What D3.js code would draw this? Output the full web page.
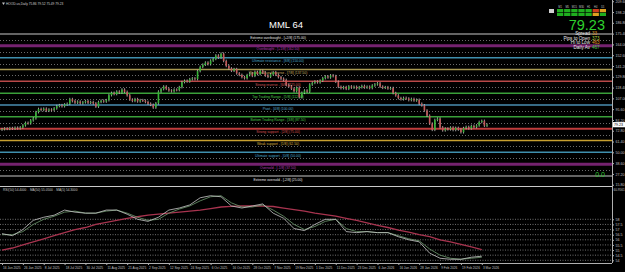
<!DOCTYPE html>
<html>
<head>
<meta charset="utf-8">
<script src="https://cdn.jsdelivr.net/npm/d3@7/dist/d3.min.js"></script>
<style>
body { margin: 0; background: #000; }
svg { display: block; }
text { font-family: "Liberation Sans", Arial, sans-serif; }
</style>
</head>
<body>
<svg id="chart" width="625" height="272"></svg>
<script>
// daily closes (HOOD.us, Daily)
var closes = [
	74.5, 75.2, 74.8, 75.6, 75.1, 76.0, 75.4, 76.3,
	78.5, 81.2, 80.6, 83.8, 85.9, 92.5, 95.8,
	94.7, 96.1, 93.9, 95.2, 94.6, 96.4,
	98.9, 99.8, 98.7, 100.6, 101.3, 106.2, 104.1,
	102.5, 103.6, 101.8, 102.9, 104.2, 102.4, 103.1, 101.7, 98.3,
	103.2, 104.5, 103.7, 105.1,
	110.4, 112.8, 111.6, 114.2, 113.1, 116.3, 113.9, 110.2,
	105.7, 104.3, 106.2, 103.8, 105.1, 104.6, 103.2,
	101.4, 100.2, 97.3, 101.8,
	114.2, 116.8, 119.5, 117.1,
	115.3, 114.6, 116.2, 115.8, 118.9,
	124.2, 125.6, 124.9, 127.3, 128.1, 127.4,
	135.8, 140.2, 142.6, 144.8, 143.1, 146.9, 148.7,
	152.3, 150.1, 154.2, 146.5, 141.3,
	138.6, 136.2, 137.9, 133.4, 131.8, 129.5, 128.3,
	131.6, 133.2, 130.8, 134.9, 132.7, 136.1, 134.3, 131.2, 129.8, 132.4,
	134.6, 131.9, 129.4, 127.8, 126.5, 121.4, 119.8,
	117.2, 114.6, 118.3, 108.2, 112.9, 115.3, 114.1,
	121.6, 123.4, 124.8, 123.9, 125.7,
	128.4, 130.2, 129.1, 131.3, 130.5, 124.6,
	119.2, 117.8, 118.9, 117.1, 119.6,
	118.4, 119.2, 117.6, 118.8, 120.1, 118.5, 119.3, 117.9, 120.6,
	121.8, 122.9, 119.4, 118.2, 118.8, 117.5, 117.9,
	112.6, 110.1,
	107.3, 106.1, 107.5, 106.8, 105.2, 106.4, 104.8, 105.5,
	101.3, 99.6, 94.2, 88.7, 80.3, 73.8, 84.2, 85.6,
	76.4, 73.2, 75.1, 74.3, 76.2, 73.6, 75.8, 74.1, 71.2,
	75.6, 76.8, 75.3, 77.9, 76.7, 78.4, 82.1, 83.2, 78.1, 79.23
]
var firstOpen = 74.0

// every 8th bar carries a date label
var dateLabels = ["16 Jun 2025", "26 Jun 2025", "8 Jul 2025", "18 Jul 2025", "30 Jul 2025", "11 Aug 2025",
	"21 Aug 2025", "2 Sep 2025", "12 Sep 2025", "24 Sep 2025", "6 Oct 2025", "16 Oct 2025",
	"28 Oct 2025", "7 Nov 2025", "19 Nov 2025", "1 Dec 2025", "11 Dec 2025", "23 Dec 2025",
	"6 Jan 2026", "16 Jan 2026", "28 Jan 2026", "9 Feb 2026", "19 Feb 2026", "3 Mar 2026"]

// Murrey math levels
var mmlValues = [175, 162.5, 150, 137.5, 125, 112.5, 100, 87.5, 75, 62.5, 50, 37.5, 25]
var mmlNames = ["Extreme overbought - [+2/8]", "Overbought - [+1/8]", "Ultimate resistance - [8/8]",
	"Weak, stall and reverse - [7/8]", "Strong reverse - [6/8]", "Top Trading Range - [5/8]",
	"Pivot - [4/8]", "Bottom Trading Range - [3/8]", "Strong support - [2/8]",
	"Weak support - [1/8]", "Ultimate support - [0/8]", "Oversold - [-1/8]", "Extreme oversold - [-2/8]"]

var priceTicks = [15.80, 27.20, 38.60, 50.00, 61.40, 72.80, 84.20, 95.60, 107.00, 118.40,
	129.80, 141.20, 152.60, 164.00, 175.40, 186.80, 198.20, 209.60]

// indicator window, sampled every 4 bars
var rsiLine = [56.6, 56.4, 57.0, 57.9, 58.2, 58.4, 58.9, 58.7, 58.6, 58.6, 58.9, 58.9, 58.5, 58.0,
	57.8, 58.2, 58.9, 59.1, 59.4, 60.1, 60.3, 60.2, 59.3, 59.1, 59.3, 59.5, 58.6, 58.1, 57.1, 56.9,
	57.5, 58.0, 58.0, 56.8, 56.7, 56.8, 56.7, 56.7, 56.3, 56.0, 55.8, 54.7, 54.2, 54.1, 54.1, 54.3, 54.4]
var maFast = [56.5, 56.5, 56.8, 57.5, 58.0, 58.3, 58.7, 58.8, 58.6, 58.6, 58.8, 58.9, 58.6, 58.2,
	57.9, 58.0, 58.6, 59.0, 59.3, 59.8, 60.2, 60.3, 59.6, 59.2, 59.2, 59.4, 58.9, 58.3, 57.5, 57.0,
	57.3, 57.8, 58.0, 57.1, 56.8, 56.8, 56.7, 56.7, 56.4, 56.1, 55.9, 55.1, 54.5, 54.2, 54.1, 54.2, 54.3]
var maSlow = [55.0, 55.2, 55.5, 55.8, 56.1, 56.4, 56.7, 57.0, 57.2, 57.5, 57.7, 57.9, 58.1, 58.25,
	58.4, 58.5, 58.6, 58.7, 58.8, 58.9, 59.05, 59.2, 59.27, 59.3, 59.3, 59.28, 59.25, 59.1, 58.95, 58.8,
	58.6, 58.45, 58.3, 58.1, 57.9, 57.65, 57.4, 57.2, 56.95, 56.75, 56.5, 56.3, 56.0, 55.8, 55.55, 55.3, 55.05]
var indLevels = [54, 54.5, 55, 55.5, 56, 56.5, 57, 57.5, 58]

// info panel
var timeframes = ["M1", "M5", "M15", "M30", "H1", "H4", "D1"]
var meterTop = ["up", "up", "up", "up", "up", "down", "flat"]
var meterBottom = ["up", "up", "up", "up", "up", "flat", "up"]
var statLabels = ["Spread", "Pips to Open", "Hi to Low", "Daily Av"]
var statValues = ["33", "373", "463", "467"]
var lastPrice = 79.23

var mmlColors = ["#c8c8c8", "#74226f", "#3f8fae", "#a89850", "#b84848", "#3aa03a", "#4a8eb0",
	"#3aa03a", "#c03c3c", "#c8a030", "#3f8fae", "#74226f", "#c8c8c8"]
var mmlText = ["#e0e0e0", "#b43cb4", "#4aa8cc", "#c8b060", "#d05858", "#48c048", "#5aa8cc",
	"#48c048", "#d85050", "#d8b040", "#4aa8cc", "#b43cb4", "#e0e0e0"]
var mmlWidth = [1.2, 3, 1.5, 1.5, 1.5, 1.5, 1.5, 1.5, 2, 1.5, 1.5, 3, 1.2]
var meterColors = { up: "#1fae1f", down: "#d03c1c", flat: "#e0a020" }

var svg = d3.select("#chart")
var plotRight = 612,
	mainBottom = 186,
	subBottom = 263

svg.append("rect").attr("width", 625).attr("height", 272).attr("fill", "#000")

var bars = closes.map(function(c, i) {
	var o = i ? closes[i - 1] : firstOpen
	return { i: i, o: o, c: c, h: Math.max(o, c) + 1.4, l: Math.min(o, c) - 1.4 }
})

var x = d3.scaleLinear().domain([0, closes.length - 1]).range([2, 487])
var y = d3.scaleLinear().domain([25, 175]).range([176, 34])
var yInd = d3.scaleLinear().domain([54, 58]).range([260.3, 219.3])

// dotted half-step lines
var halfSteps = d3.range(0, mmlValues.length - 1).map(function(k) {
	return (mmlValues[k] + mmlValues[k + 1]) / 2
})
svg.append("g").selectAll("line").data(halfSteps).enter().append("line")
	.attr("x1", 0).attr("x2", plotRight)
	.attr("y1", function(d) { return Math.round(y(d)) + 0.5 })
	.attr("y2", function(d) { return Math.round(y(d)) + 0.5 })
	.attr("stroke", "#6a6a6a").attr("stroke-width", 1).attr("stroke-dasharray", "1,2")

var mml = svg.append("g")
mml.selectAll("line").data(mmlValues).enter().append("line")
	.attr("x1", 0).attr("x2", plotRight)
	.attr("y1", function(d) { return y(d) })
	.attr("y2", function(d) { return y(d) })
	.attr("stroke", function(d, i) { return mmlColors[i] })
	.attr("stroke-width", function(d, i) { return mmlWidth[i] })

mml.selectAll("text").data(mmlValues).enter().append("text")
	.attr("x", 278).attr("y", function(d) { return y(d) + 4.6 })
	.attr("text-anchor", "middle").attr("font-size", "3.4px")
	.attr("fill", function(d, i) { return mmlText[i] })
	.text(function(d, i) { return mmlNames[i] + " (" + d.toFixed(2) + ")" })

svg.append("text").attr("x", 286).attr("y", 28)
	.attr("text-anchor", "middle").attr("font-size", "9.5px").attr("fill", "#ffffff")
	.text("MML 64")

// candles
var candles = svg.append("g")
candles.selectAll("line").data(bars).enter().append("line")
	.attr("x1", function(d) { return x(d.i) }).attr("x2", function(d) { return x(d.i) })
	.attr("y1", function(d) { return y(d.h) }).attr("y2", function(d) { return y(d.l) })
	.attr("stroke", "#c4c4c4").attr("stroke-width", 0.8)
candles.selectAll("rect").data(bars).enter().append("rect")
	.attr("x", function(d) { return x(d.i) - 0.8 }).attr("width", 1.6)
	.attr("y", function(d) { return y(Math.max(d.o, d.c)) })
	.attr("height", function(d) { return Math.max(0.8, Math.abs(y(d.o) - y(d.c))) })
	.attr("fill", function(d) { return d.c >= d.o ? "#36b236" : "#c45858" })

// frame
svg.append("line").attr("x1", 0).attr("x2", plotRight).attr("y1", mainBottom + 0.5).attr("y2", mainBottom + 0.5)
	.attr("stroke", "#c8c8c8").attr("stroke-width", 1)
svg.append("line").attr("x1", 0).attr("x2", plotRight).attr("y1", subBottom + 0.5).attr("y2", subBottom + 0.5)
	.attr("stroke", "#b0b0b0").attr("stroke-width", 1)
svg.append("line").attr("x1", plotRight + 0.5).attr("x2", plotRight + 0.5).attr("y1", 0).attr("y2", subBottom)
	.attr("stroke", "#b0b0b0").attr("stroke-width", 1)

// right price axis
var yAxis = d3.axisRight(y).tickValues(priceTicks).tickSize(2).tickPadding(1.5)
	.tickFormat(function(d) { return d.toFixed(2) })
var ya = svg.append("g").attr("transform", "translate(" + plotRight + ",0)").call(yAxis)
ya.select(".domain").remove()
ya.selectAll("line").attr("stroke", "#b0b0b0")
ya.selectAll("text").attr("fill", "#c0c0c0").attr("font-size", "3.6px")

var tagY = y(lastPrice)
svg.append("rect").attr("x", plotRight + 1).attr("y", tagY - 2.6).attr("width", 12).attr("height", 5.2).attr("fill", "#ffffff")
svg.append("text").attr("x", plotRight + 2).attr("y", tagY + 1.3).attr("font-size", "3.6px").attr("fill", "#000")
	.text(lastPrice.toFixed(2))

svg.append("text").attr("x", 605).attr("y", 177).attr("text-anchor", "end")
	.attr("font-size", "7px").attr("fill", "#2ec82e").text("0.0")

// indicator window
var ind = svg.append("g")
ind.selectAll("line").data(indLevels).enter().append("line")
	.attr("x1", 0).attr("x2", plotRight)
	.attr("y1", function(d) { return yInd(d) }).attr("y2", function(d) { return yInd(d) })
	.attr("stroke", "#8a8a8a").attr("stroke-width", 0.8).attr("stroke-dasharray", "1,1.5")

var sampleX = function(d, k) { return x(k * 4) }
var lineGen = d3.line().x(sampleX).y(function(d) { return yInd(d) })

ind.append("path").attr("d", lineGen(maSlow)).attr("fill", "none")
	.attr("stroke", "#a8344f").attr("stroke-width", 1.3)
ind.append("path").attr("d", lineGen(maFast)).attr("fill", "none")
	.attr("stroke", "#6e9a6e").attr("stroke-width", 0.8)
ind.append("path").attr("d", lineGen(rsiLine)).attr("fill", "none")
	.attr("stroke", "#c8c8c8").attr("stroke-width", 0.8)

var indAxis = d3.axisRight(yInd).tickValues(indLevels).tickSize(2).tickPadding(1.5)
	.tickFormat(function(d) { return d3.format(".1~f")(d) })
var ia = svg.append("g").attr("transform", "translate(" + plotRight + ",0)").call(indAxis)
ia.select(".domain").remove()
ia.selectAll("line").attr("stroke", "#b0b0b0")
ia.selectAll("text").attr("fill", "#c0c0c0").attr("font-size", "3.6px")
svg.append("text").attr("x", plotRight + 1.5).attr("y", 190.5).attr("font-size", "3.1px").attr("fill", "#c0c0c0")
	.text(yInd.invert(189).toFixed(4))

svg.append("text").attr("x", 3).attr("y", 190.5).attr("font-size", "3.2px").attr("fill", "#c8c8c8")
	.text("RSI(50) " + rsiLine[rsiLine.length - 1].toFixed(4) + "   \u2219\u2219 MA(50) " +
		maSlow[maSlow.length - 1].toFixed(4) + "   \u2219\u2219 MA(5) " + maFast[maFast.length - 1].toFixed(4))

// time axis
var xa = svg.append("g").attr("transform", "translate(0," + subBottom + ")")
	.call(d3.axisBottom(x).tickValues(d3.range(0, dateLabels.length * 8, 8)).tickSize(2).tickPadding(1.5)
		.tickFormat(function(d) { return dateLabels[d / 8] }))
xa.select(".domain").remove()
xa.selectAll("line").attr("stroke", "#b0b0b0")
xa.selectAll("text").attr("fill", "#c0c0c0").attr("font-size", "3.2px").attr("text-anchor", "start")
	.attr("dx", "0.6")

// top-left symbol line
svg.append("path").attr("d", "M2,2.5 L5,2.5 L3.5,5 Z").attr("fill", "#c0c0c0")
svg.append("text").attr("x", 6).attr("y", 5).attr("font-size", "3.2px").attr("fill", "#d0d0d0")
	.text("HOOD.us,Daily  75.86 79.52 75.49 " + lastPrice.toFixed(2))

// info panel top right
var panel = svg.append("g")
var cellX = d3.scaleBand().domain(timeframes).range([557, 606]).paddingInner(0.12)
panel.selectAll("text.tf").data(timeframes).enter().append("text")
	.attr("class", "tf")
	.attr("x", function(d) { return cellX(d) + cellX.bandwidth() / 2 })
	.attr("y", 8).attr("text-anchor", "middle").attr("font-size", "2.6px").attr("fill", "#c0c0c0")
	.text(function(d) { return d })
panel.selectAll("rect.top").data(meterTop).enter().append("rect")
	.attr("x", function(d, i) { return cellX(timeframes[i]) }).attr("y", 9)
	.attr("width", cellX.bandwidth()).attr("height", 3.2)
	.attr("fill", function(d) { return meterColors[d] })
panel.selectAll("rect.bot").data(meterBottom).enter().append("rect")
	.attr("x", function(d, i) { return cellX(timeframes[i]) }).attr("y", 12.8)
	.attr("width", cellX.bandwidth()).attr("height", 3.2)
	.attr("fill", function(d) { return meterColors[d] })
panel.append("rect").attr("x", 549).attr("y", 9).attr("width", 5).attr("height", 4).attr("fill", "#d0d0d0")

panel.append("text").attr("x", 605).attr("y", 29.5).attr("text-anchor", "end")
	.attr("font-size", "14.5px").attr("fill", "#2ed12e").text(lastPrice.toFixed(2))

var statColors = ["#e09a2a", "#b8d040", "#e09a2a", "#40c840"]
panel.selectAll("text.sl").data(statLabels).enter().append("text")
	.attr("class", "sl").attr("x", 590).attr("y", function(d, i) { return 35 + i * 4.6 })
	.attr("text-anchor", "end").attr("font-size", "4.6px").attr("fill", "#e8e8e8")
	.text(function(d) { return d })
panel.selectAll("text.sv").data(statValues).enter().append("text")
	.attr("class", "sv").attr("x", 592).attr("y", function(d, i) { return 35 + i * 4.6 })
	.attr("font-size", "4.6px").attr("fill", function(d, i) { return statColors[i] })
	.text(function(d) { return d })
</script>
</body>
</html>
